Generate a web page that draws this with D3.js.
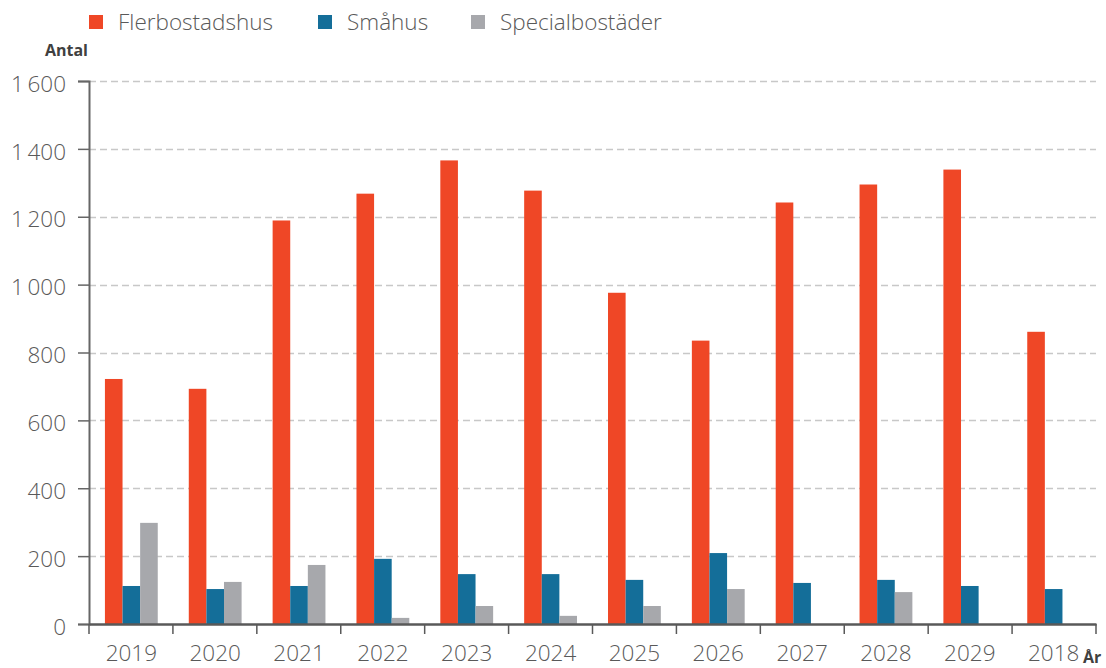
<!DOCTYPE html>
<html lang="sv">
<head>
<meta charset="UTF-8">
<title>Bostadsbyggande</title>
<script src="https://d3js.org/d3.v7.min.js"></script>
<style>
  body { margin: 0; background: #fff; }
  text { font-family: "Open Sans", sans-serif; }
</style>
</head>
<body>
<div id="chart"></div>
<script>
// category labels (as shown, left to right)
const years = ["2019", "2020", "2021", "2022", "2023", "2024", "2025", "2026", "2027", "2028", "2029", "2018"];
const seriesNames = ["Flerbostadshus", "Småhus", "Specialbostäder"];
const flerbostadshus = [722, 693, 1189, 1268, 1366, 1277, 976, 835, 1242, 1295, 1339, 861];
const smahus = [112, 103, 112, 192, 147, 147, 130, 209, 121, 130, 112, 103];
const specialbostader = [298, 124, 174, 18, 53, 24, 53, 103, 0, 94, 0, 0];
const yTicks = [0, 200, 400, 600, 800, 1000, 1200, 1400, 1600];
const colors = ["#ef4726", "#146e99", "#a7a8ac"];

const width = 1106, height = 668;
const margin = { top: 81, right: 10, bottom: 44, left: 89 };

const svg = d3.select("#chart").append("svg")
  .attr("width", width)
  .attr("height", height);

const x = d3.scaleBand()
  .domain(years)
  .range([margin.left, width - margin.right])
  .paddingInner(0.37)
  .paddingOuter(0.19);

const xSub = d3.scaleBand()
  .domain(seriesNames)
  .range([0, x.bandwidth()]);

const y = d3.scaleLinear()
  .domain([0, 1600])
  .range([height - margin.bottom, margin.top]);

// gridlines
svg.append("g")
  .selectAll("line")
  .data(yTicks.filter(d => d > 0))
  .join("line")
  .attr("x1", margin.left)
  .attr("x2", width - margin.right)
  .attr("y1", d => Math.round(y(d)) + 0.5)
  .attr("y2", d => Math.round(y(d)) + 0.5)
  .attr("stroke", "#c8c8c8")
  .attr("stroke-width", 1.5)
  .attr("stroke-dasharray", "7,4");

// bars
const data = years.map((yr, i) => ({
  year: yr,
  values: [flerbostadshus[i], smahus[i], specialbostader[i]]
}));

const groups = svg.append("g")
  .selectAll("g")
  .data(data)
  .join("g")
  .attr("transform", d => `translate(${x(d.year)},0)`);

groups.selectAll("rect")
  .data(d => d.values.map((v, j) => ({ name: seriesNames[j], value: v, color: colors[j] })))
  .join("rect")
  .attr("x", d => xSub(d.name))
  .attr("width", xSub.bandwidth())
  .attr("y", d => y(d.value))
  .attr("height", d => y(0) - y(d.value))
  .attr("fill", d => d.color);

// y axis
const yAxis = d3.axisLeft(y)
  .tickValues(yTicks)
  .tickSize(11)
  .tickPadding(12)
  .tickFormat(d => d3.format(",")(d).replace(",", "\u2009"));

const gy = svg.append("g")
  .attr("transform", `translate(${margin.left},0)`)
  .call(yAxis);
gy.select(".domain").attr("stroke", "#666").attr("stroke-width", 2);
gy.selectAll(".tick line").attr("stroke", "#666").attr("stroke-width", 1.5);
gy.selectAll(".tick text")
  .attr("dy", "0.45em")
  .attr("font-size", 22.5)
  .attr("font-weight", 300)
  .attr("fill", "#595959");

// x axis
const xAxis = d3.axisBottom(x).tickSize(0).tickPadding(21);
const gx = svg.append("g")
  .attr("transform", `translate(0,${y(0)})`)
  .call(xAxis);
gx.select(".domain").attr("stroke", "#595959").attr("stroke-width", 2.5);
gx.selectAll(".tick text")
  .attr("font-size", 22.5)
  .attr("font-weight", 300)
  .attr("fill", "#595959");

// category separators
const [r0, r1] = x.range();
const seps = d3.range(years.length + 1).map(i => r0 + i * (r1 - r0) / years.length);
svg.append("g")
  .selectAll("line")
  .data(seps)
  .join("line")
  .attr("x1", d => d)
  .attr("x2", d => d)
  .attr("y1", y(0))
  .attr("y2", y(0) + 10)
  .attr("stroke", "#595959")
  .attr("stroke-width", 1.5);

// axis titles
svg.append("text")
  .attr("x", 88)
  .attr("y", 56)
  .attr("text-anchor", "end")
  .attr("font-size", 16)
  .attr("font-weight", 700)
  .attr("fill", "#404040")
  .text("Antal");

svg.append("text")
  .attr("x", 1083)
  .attr("y", 663)
  .attr("font-size", 16)
  .attr("font-weight", 700)
  .attr("fill", "#404040")
  .text("År");

// legend
const legendX = [89, 318, 471];
const legend = svg.append("g")
  .selectAll("g")
  .data(seriesNames)
  .join("g")
  .attr("transform", (d, i) => `translate(${legendX[i]},15)`);

legend.append("rect")
  .attr("width", 14)
  .attr("height", 14)
  .attr("fill", (d, i) => colors[i]);

legend.append("text")
  .attr("x", 29)
  .attr("y", 7)
  .attr("dy", "0.36em")
  .attr("font-size", 22.5)
  .attr("font-weight", 300)
  .attr("fill", "#595959")
  .text(d => d);
</script>
</body>
</html>
